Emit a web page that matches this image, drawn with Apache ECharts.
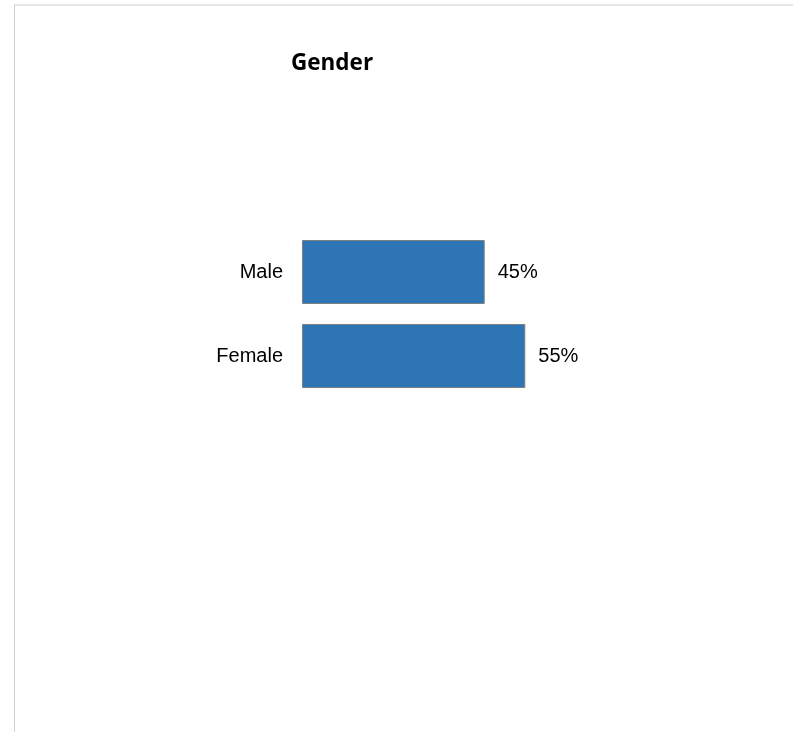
<!DOCTYPE html>
<html>
<head>
<meta charset="utf-8">
<script src="https://cdn.jsdelivr.net/npm/echarts@6/dist/echarts.min.js"></script>
<style>
  html, body { margin: 0; padding: 0; background: #fff; }
  #frame {
    position: absolute; left: 14px; top: 4px; width: 779px; height: 728px;
    border-top: 2px solid #e6e6e6; border-left: 1px solid #d0d0d0;
    box-sizing: border-box;
  }
  #chart { position: absolute; left: 0; top: 0; width: 793px; height: 732px; }
</style>
</head>
<body>
<div id="frame"></div>
<div id="chart"></div>
<script>
const categories = ['Male', 'Female'];
const shares = [45, 55];
const titleText = 'Gender';

const chart = echarts.init(document.getElementById('chart'), null, { renderer: 'canvas' });
chart.setOption({
  backgroundColor: 'transparent',
  animation: false,
  title: {
    text: titleText,
    left: 286,
    top: 47,
    textStyle: { fontFamily: 'Open Sans', fontWeight: 'bold', fontSize: 22.5, color: '#000' }
  },
  grid: { left: 302, top: 230, width: 406, height: 168, containLabel: false },
  xAxis: {
    type: 'value', min: 0, max: 100, show: false
  },
  yAxis: {
    type: 'category', data: categories, inverse: true,
    axisLine: { show: false }, axisTick: { show: false }, splitLine: { show: false },
    axisLabel: { color: '#000', fontFamily: 'Liberation Sans', fontSize: 20, margin: 19 }
  },
  series: [{
    type: 'bar',
    data: shares,
    barCategoryGap: '23.8%',
    itemStyle: { color: '#2e75b6', borderColor: '#7f7f7f', borderWidth: 1 },
    label: {
      show: true, position: 'right', distance: 13,
      formatter: p => p.value + '%',
      color: '#000', fontFamily: 'Liberation Sans', fontSize: 20
    }
  }]
});
</script>
</body>
</html>
